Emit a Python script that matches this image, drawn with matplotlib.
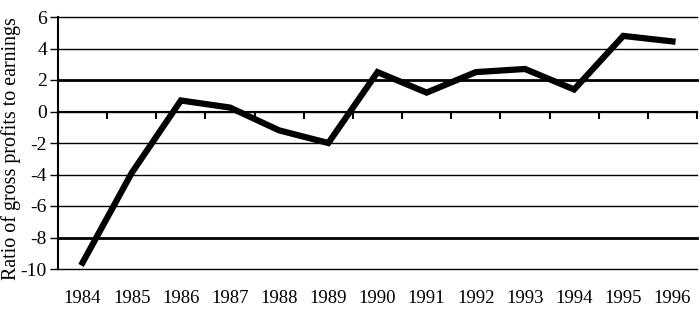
import matplotlib
matplotlib.use("Agg")
import matplotlib.pyplot as plt
import numpy as np

years = ["1984", "1985", "1986", "1987", "1988", "1989", "1990",
         "1991", "1992", "1993", "1994", "1995", "1996"]
ratio = [-9.6, -3.9, 0.7, 0.25, -1.2, -2.0, 2.5, 1.2, 2.5, 2.7, 1.4, 4.8, 4.45]
y_ticks = [-10, -8, -6, -4, -2, 0, 2, 4, 6]
y_label = "Ratio of gross profits to earnings"

plt.rcParams['font.family'] = ['Liberation Serif', 'DejaVu Serif']

fig = plt.figure(figsize=(7.0, 3.18), dpi=100)
ax = fig.add_axes([58/700, 1-269/318, (697-58)/700, (269-17)/318])

x = np.arange(len(years))
ax.set_xlim(-0.5, len(years) - 0.5)
ax.set_ylim(-10, 6)

for t in y_ticks:
    lw = 2.0 if t in (2, -8) else 1.0
    ax.axhline(t, color='black', lw=lw, zorder=1, clip_on=False)

ax.plot(x, ratio, color='black', lw=4.5, solid_joinstyle='miter', zorder=3)

for s in ['top', 'right', 'bottom']:
    ax.spines[s].set_visible(False)
ax.spines['left'].set_linewidth(1.5)

ax.set_yticks(y_ticks)
ax.set_yticklabels([str(t) for t in y_ticks], fontsize=14)
ax.tick_params(axis='y', length=6, width=1, pad=2)

ax.set_xticks(x)
ax.set_xticklabels(years, fontsize=13.5)
ax.tick_params(axis='x', length=0, pad=15)

# category boundary ticks on the zero line
loc = (0 - (-10)) / 16
sec = ax.secondary_xaxis(loc)
sec.set_xticks(np.arange(len(years) + 1) - 0.5)
sec.set_xticklabels([])
sec.tick_params(axis='x', length=6, width=1.5, direction='in')
sec.spines['bottom'].set_linewidth(1.0)

ax.set_ylabel(y_label, fontsize=14.4)
ax.yaxis.set_label_coords(-0.058, 0.476)

fig.savefig("out.png", dpi=100)
